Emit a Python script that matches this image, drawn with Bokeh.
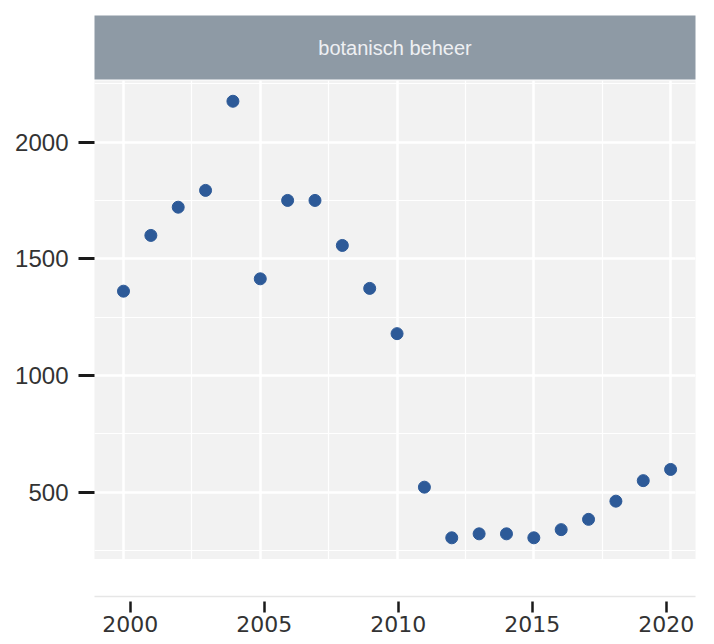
from bokeh.plotting import figure
from bokeh.models import ColumnDataSource, Range1d, FixedTicker, SingleIntervalTicker
from bokeh.layouts import column
from bokeh.core.properties import value
from bokeh.embed import file_html
from bokeh.resources import INLINE

# ---- data ----
years = [2000, 2001, 2002, 2003, 2004, 2005, 2006, 2007, 2008, 2009, 2010,
         2011, 2012, 2013, 2014, 2015, 2016, 2017, 2018, 2019, 2020]
counts = [1361, 1600, 1721, 1793, 2175, 1414, 1750, 1750, 1557, 1373, 1179,
          521, 304, 321, 321, 304, 339, 383, 461, 549, 597]
strip_label = ["botanisch beheer"]
x_ticks = [2000, 2005, 2010, 2015, 2020]
y_ticks = [500, 1000, 1500, 2000]

W = 712
STRIP_COLOR = "#8E9AA5"
PANEL_BG = "#F2F2F2"
POINT_COLOR = "#2D5A98"

# ---- facet strip ----
strip = figure(width=W, height=80, x_range=Range1d(0, 1), y_range=Range1d(0, 1),
               toolbar_location=None, output_backend="svg",
               x_axis_location=None, y_axis_location=None,
               min_border_left=94, min_border_right=17,
               min_border_top=15, min_border_bottom=1)
strip.background_fill_color = STRIP_COLOR
strip.border_fill_color = "white"
strip.outline_line_color = None
strip.xgrid.visible = False
strip.ygrid.visible = False
strip.text(x=[0.5], y=[0.5], text=strip_label, text_align="center",
           text_baseline="middle", text_font=value("Liberation Sans"),
           text_font_size="20px", text_color="#EEF0F3")

# ---- main panel ----
p = figure(width=W, height=479,
           x_range=Range1d(1998.94, 2020.91), y_range=Range1d(211, 2264),
           toolbar_location=None, output_backend="svg",
           x_axis_location=None,
           min_border_left=94, min_border_right=17,
           min_border_top=0, min_border_bottom=0)
p.title.visible = False
p.background_fill_color = PANEL_BG
p.border_fill_color = "white"
p.outline_line_color = None

p.xgrid.ticker = SingleIntervalTicker(interval=5, num_minor_ticks=2)
p.ygrid.ticker = SingleIntervalTicker(interval=500, num_minor_ticks=2)
for g in (p.xgrid[0], p.ygrid[0]):
    g.grid_line_color = "white"
    g.grid_line_width = 2.5
    g.minor_grid_line_color = "white"
    g.minor_grid_line_width = 1.2

ya = p.yaxis[0]
ya.ticker = FixedTicker(ticks=y_ticks)
ya.axis_line_color = None
ya.major_tick_in = 0
ya.major_tick_out = 16
ya.major_tick_line_width = 3
ya.major_tick_line_color = "#1A1A1A"
ya.minor_tick_out = 0
ya.minor_tick_in = 0
ya.major_label_text_font = "Liberation Sans"
ya.major_label_text_font_size = "24px"
ya.major_label_text_color = "#333333"
ya.major_label_standoff = 10

src = ColumnDataSource(data=dict(year=years, count=counts))
p.scatter(x="year", y="count", source=src, size=12,
          fill_color=POINT_COLOR, line_color=POINT_COLOR)

# ---- detached x axis below the panel ----
ax = figure(width=W, height=85,
            x_range=Range1d(1998.668, 2021.090), y_range=Range1d(0, 1),
            toolbar_location=None, output_backend="svg",
            y_axis_location=None,
            min_border_left=89, min_border_right=0,
            min_border_top=0, min_border_bottom=48)
ax.title.visible = False
ax.background_fill_color = "white"
ax.border_fill_color = "white"
ax.outline_line_color = None
ax.xgrid.visible = False
ax.ygrid.visible = False
bx = ax.xaxis[0]
bx.ticker = FixedTicker(ticks=x_ticks)
bx.axis_line_color = "#E6E6E6"
bx.axis_line_width = 1.5
bx.major_tick_in = -5
bx.major_tick_out = 16
bx.major_tick_line_width = 2.5
bx.major_tick_line_color = "#1A1A1A"
bx.minor_tick_out = 0
bx.minor_tick_in = 0
bx.major_label_text_font = "DejaVu Sans"
bx.major_label_text_font_size = "22px"
bx.major_label_text_color = "#333333"
bx.major_label_standoff = 3

layout = column(strip, p, ax, spacing=0)
open("out.html", "w").write(file_html(layout, INLINE))
